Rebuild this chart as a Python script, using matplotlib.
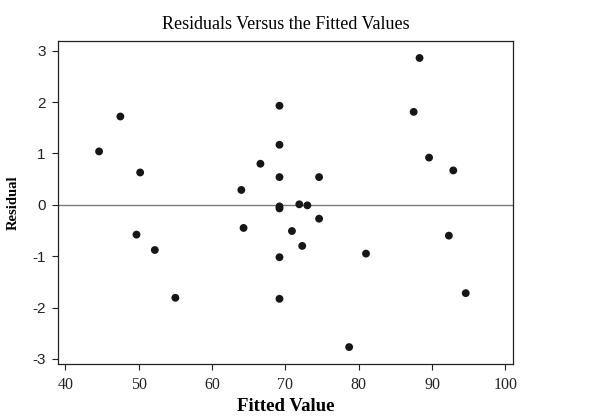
import matplotlib
matplotlib.use("Agg")
import matplotlib.pyplot as plt

# fitted values and residuals
fitted = [44.6, 47.5, 49.7, 50.2, 52.2, 55.0, 64.0, 64.3, 66.6, 69.2, 69.2,
          69.2, 69.2, 69.2, 69.2, 69.2, 70.9, 71.9, 72.3, 73.0, 74.6, 74.6,
          78.7, 81.0, 87.5, 88.3, 89.6, 92.3, 92.9, 94.6]
residual = [1.04, 1.72, -0.58, 0.63, -0.88, -1.81, 0.29, -0.45, 0.80, 1.93, 1.17,
            0.54, -0.03, -0.07, -1.02, -1.83, -0.51, 0.01, -0.80, -0.01, 0.54, -0.27,
            -2.77, -0.95, 1.81, 2.86, 0.92, -0.60, 0.67, -1.72]

x_ticks = [40, 50, 60, 70, 80, 90, 100]
y_ticks = [-3, -2, -1, 0, 1, 2, 3]

fig = plt.figure(figsize=(6.07, 4.2), dpi=100)
ax = fig.add_axes([0.0956, 0.1333, 0.7496, 0.769])

ax.axhline(0, color="#7a7a7a", lw=1.0, zorder=1)
ax.scatter(fitted, residual, s=32, color="#161616", edgecolors="none", zorder=3)

ax.set_xlim(39.0, 101.05)
ax.set_ylim(-3.1, 3.19)
ax.set_xticks(x_ticks)
ax.set_yticks(y_ticks)
ax.set_xticklabels([str(t) for t in x_ticks], fontfamily="Liberation Serif", fontsize=11.5)
ax.set_yticklabels([str(t) for t in y_ticks], fontfamily="Liberation Sans", fontsize=11)
ax.tick_params(direction="out", length=4, width=0.8, pad=5, colors="#222222")

for s in ax.spines.values():
    s.set_linewidth(0.9)
    s.set_color("#222222")

ax.set_title("Residuals Versus the Fitted Values", fontfamily="Liberation Serif",
             fontsize=13, pad=9)
ax.set_xlabel("Fitted Value", fontfamily="Liberation Serif", fontweight="bold",
              fontsize=13.5, labelpad=4)
ax.set_ylabel("Residual", fontfamily="Liberation Serif", fontweight="bold",
              fontsize=10.5, labelpad=9)

fig.savefig("out.png", dpi=100)
